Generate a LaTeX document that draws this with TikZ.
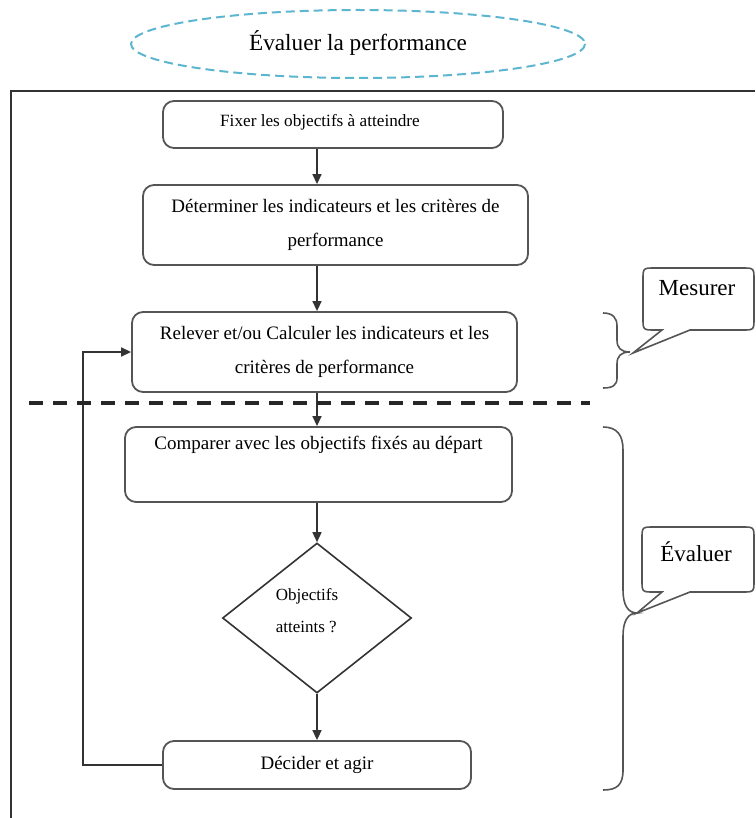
\documentclass[tikz,border=0pt]{standalone}
\usepackage{fontspec}
\setmainfont{Liberation Serif}
\usetikzlibrary{arrows.meta,shapes.geometric}
\definecolor{boxline}{HTML}{555555}
\definecolor{wire}{HTML}{333333}
\definecolor{ringblue}{HTML}{5DB6CF}
\begin{document}
\begin{tikzpicture}[x=1pt,y=-1pt,
  stepbox/.style={draw=boxline, line width=1.8pt, rounded corners=11pt,
    inner sep=0pt, align=center, font=\fontsize{19}{34}\selectfont},
  flow/.style={draw=wire, line width=1.5pt, -{Triangle[length=10pt,width=9pt]}},
  bracket/.style={draw=boxline, line width=1.6pt},
  bubble/.style={draw=boxline, line width=1.6pt},
  bubbletext/.style={font=\fontsize{23}{28}\selectfont, inner sep=0pt},
]
\useasboundingbox (0,0) rectangle (755,818);

% title ring
\draw[ringblue, line width=2pt, dash pattern=on 9pt off 5pt] (358,44) ellipse [x radius=227, y radius=34];
\node[font=\fontsize{23.2}{27}\selectfont] (title) at (358,43) {Évaluer la performance};

% frame
\draw[wire, line width=1.5pt] (755,91) -- (11,91) -- (11,818);

% process steps
\node[stepbox, minimum width=340pt, minimum height=47pt] (fix) at (333,124.5) {};
\node[font=\fontsize{17.2}{20}\selectfont, inner sep=0pt] (fixtxt) at (320,122.5) {Fixer les objectifs à atteindre};
\node[stepbox, minimum width=385pt, minimum height=80pt] (det) at (335.5,225) {Déterminer les indicateurs et les critères de\\performance};
\node[stepbox, minimum width=385pt, minimum height=80pt] (rel) at (324.5,352) {Relever et/ou Calculer les indicateurs et les\\critères de performance};
\node[stepbox, minimum width=387pt, minimum height=75pt] (cmp) at (318.5,464.5) {Comparer avec les objectifs fixés au départ\\\strut};
\node[draw=wire, line width=1.6pt, shape=diamond, minimum width=189pt, minimum height=150pt, inner sep=0pt] (dia) at (317,618) {};
\node[align=left, font=\fontsize{17}{32}\selectfont, inner sep=0pt] (diatxt) at (307,611) {Objectifs\\atteints ?};
\node[stepbox, minimum width=308pt, minimum height=48pt] (dec) at (317,765) {Décider et agir};

% flow spine and return path
\coordinate (spine) at (317,0);
\coordinate (back) at (83,0);
\draw[flow] (fix.south -| spine) -- (det.north -| spine);
\draw[flow] (det.south -| spine) -- (rel.north -| spine);
\draw[flow] (rel.south -| spine) -- (cmp.north -| spine);
\draw[flow] (cmp.south -| spine) -- (dia.north);
\draw[flow] (dia.south) -- (dec.north -| spine);
\draw[flow] (dec.west) -- (back |- dec.west) -- (back |- rel.west) -- (rel.west);

% separation between measuring and evaluating
\draw[black!85, line width=3.4pt, dash pattern=on 14pt off 10pt] (29,403) -- (590,403);

% brace and bubble: Mesurer
\draw[bracket] (603,313) .. controls (613,313) and (617,318) .. (617,326) -- (617,340)
  .. controls (617,348) and (621,352) .. (630,352)
  .. controls (621,352) and (617,356) .. (617,364) -- (617,378)
  .. controls (617,385) and (613,388) .. (603,388);
\node[bubbletext] (mes) at (697,288) {Mesurer};
\draw[bubble] (633,353) -- (662,330) -- (655,330) .. controls (643,330) .. (643,318)
  -- (643,280) .. controls (643,268) .. (655,268) -- (742,268) .. controls (754,268) .. (754,280)
  -- (754,318) .. controls (754,330) .. (742,330) -- (690,330) -- cycle;

% brace and bubble: Évaluer
\draw[bracket] (603,427) .. controls (617,427) and (623,435) .. (623,450) -- (623,590)
  .. controls (623,605) and (628,613) .. (637,613)
  .. controls (628,613) and (623,621) .. (623,636) -- (623,770)
  .. controls (623,785) and (617,790) .. (603,790);
\node[bubbletext] (eva) at (696,552) {Évaluer};
\draw[bubble] (637,613) -- (662,592) -- (654,592) .. controls (642,592) .. (642,580)
  -- (642,539) .. controls (642,527) .. (654,527) -- (742,527) .. controls (754,527) .. (754,539)
  -- (754,580) .. controls (754,592) .. (742,592) -- (690,592) -- cycle;
\end{tikzpicture}
\end{document}
